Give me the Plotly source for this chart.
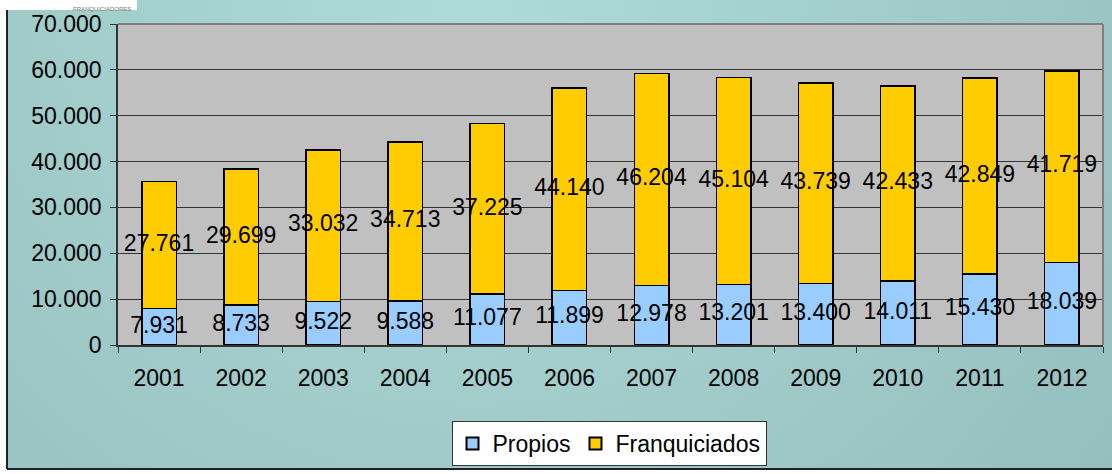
import base64
import plotly.graph_objects as go

years = ["2001", "2002", "2003", "2004", "2005", "2006", "2007", "2008", "2009", "2010", "2011", "2012"]
propios = [7931, 8733, 9522, 9588, 11077, 11899, 12978, 13201, 13400, 14011, 15430, 18039]
franquiciados = [27761, 29699, 33032, 34713, 37225, 44140, 46204, 45104, 43739, 42433, 42849, 41719]
y_ticks = [0, 10000, 20000, 30000, 40000, 50000, 60000, 70000]
series_names = ["Propios", "Franquiciados"]


def fmt(v):
    return f"{v:,}".replace(",", ".")


W, H = 1112, 474
L, R, T, B = 118, 1103, 24, 345


def px_x(p):
    return (p - L) / (R - L)


def px_y(p):
    return (B - p) / (B - T)


FONT = "Arial, 'Liberation Sans', sans-serif"
FS = 23

fig = go.Figure()
fig.add_trace(go.Bar(
    x=years, y=propios, name=series_names[0],
    marker=dict(color="#99CCFF", line=dict(color="#000000", width=1.5)),
    hoverinfo="x+y",
))
fig.add_trace(go.Bar(
    x=years, y=franquiciados, name=series_names[1],
    marker=dict(color="#FFCC00", line=dict(color="#000000", width=1.5)),
    hoverinfo="x+y",
))
# data labels centred in each segment
fig.add_trace(go.Scatter(
    x=years, y=[p / 2 for p in propios], mode="text",
    text=[fmt(v) for v in propios], textfont=dict(family=FONT, size=FS, color="#000"),
    showlegend=False, hoverinfo="skip",
))
fig.add_trace(go.Scatter(
    x=years, y=[p + f / 2 for p, f in zip(propios, franquiciados)], mode="text",
    text=[fmt(v) for v in franquiciados], textfont=dict(family=FONT, size=FS, color="#000"),
    showlegend=False, hoverinfo="skip",
))

# gradient background as SVG image
svg = f'''<svg xmlns="http://www.w3.org/2000/svg" width="{W}" height="{H}">
<defs><radialGradient id="g" cx="0.42" cy="0.0" r="0.75" gradientTransform="translate(0.42,0) scale(1,2.3) translate(-0.42,0)">
<stop offset="0" stop-color="#AEDBD8"/><stop offset="0.55" stop-color="#A0CBC9"/><stop offset="1" stop-color="#93BEBD"/>
</radialGradient></defs>
<rect width="{W}" height="{H}" fill="url(#g)"/></svg>'''
src = "data:image/svg+xml;base64," + base64.b64encode(svg.encode()).decode()

x0p, x1p = px_x(7), px_x(W)
y0p, y1p = px_y(0), px_y(469)
fig.add_layout_image(dict(
    source=src, xref="paper", yref="paper", x=x0p, y=y0p,
    sizex=x1p - x0p, sizey=y0p - y1p, xanchor="left", yanchor="top",
    sizing="stretch", layer="below",
))

shapes = [
    # plot area fill
    dict(type="rect", xref="paper", yref="paper", x0=0, x1=1, y0=0, y1=1,
         fillcolor="#C0C0C0", line=dict(width=0), layer="below"),
    # top and right plot border (gray)
    dict(type="line", xref="paper", yref="paper", x0=0, x1=1, y0=1, y1=1,
         line=dict(color="#808080", width=2), layer="above"),
    dict(type="line", xref="paper", yref="paper", x0=1, x1=1, y0=0, y1=1,
         line=dict(color="#808080", width=2), layer="above"),
    # chart frame left and bottom
    dict(type="line", xref="paper", yref="paper", x0=px_x(7), x1=px_x(7), y0=px_y(-2), y1=px_y(469),
         line=dict(color="#222", width=2), layer="above"),
    dict(type="line", xref="paper", yref="paper", x0=px_x(7), x1=px_x(W + 2), y0=px_y(469), y1=px_y(469),
         line=dict(color="#222", width=2), layer="above"),
    # logo white box
    dict(type="rect", xref="paper", yref="paper", x0=px_x(5), x1=px_x(137), y0=px_y(-2), y1=px_y(10),
         fillcolor="#FFFFFF", line=dict(width=0), layer="above"),
]

fig.update_layout(
    width=W, height=H,
    margin=dict(l=L, r=W - R, t=T, b=H - B, autoexpand=False),
    paper_bgcolor="#FFFFFF", plot_bgcolor="rgba(0,0,0,0)",
    barmode="stack", bargap=0.58,
    separators=",.",
    font=dict(family=FONT, size=FS, color="#000"),
    shapes=shapes,
    annotations=[dict(text="FRANQUICIADORES", xref="paper", yref="paper",
                      x=px_x(71), y=px_y(4), showarrow=False,
                      font=dict(family=FONT, size=6, color="#777"))],
    xaxis=dict(
        type="category", range=[-0.5, len(years) - 0.5],
        showgrid=False, showline=True, linecolor="#333", linewidth=1.5,
        ticks="outside", tickson="boundaries", ticklen=6, tickcolor="#333",
        ticklabelstandoff=12,
        tickfont=dict(family=FONT, size=FS, color="#000"), fixedrange=True,
        automargin=False,
    ),
    yaxis=dict(
        range=[0, 70000], tickvals=y_ticks, ticktext=[fmt(v) for v in y_ticks],
        showgrid=True, gridcolor="#333", gridwidth=1,
        showline=True, linecolor="#333", linewidth=1.5,
        ticks="outside", ticklen=6, tickcolor="#333", zeroline=False,
        ticklabelstandoff=4,
        tickfont=dict(family=FONT, size=FS, color="#000"), fixedrange=True,
        automargin=False,
    ),
    showlegend=True,
    legend=dict(
        orientation="h", x=px_x(609), xanchor="center", y=px_y(421), yanchor="top",
        bgcolor="#FFFFFF", bordercolor="#333", borderwidth=1,
        font=dict(family=FONT, size=FS, color="#000"), itemsizing="constant",
        traceorder="normal", itemwidth=30, tracegroupgap=0,
    ),
)

fig.write_html("out.html", config={"displayModeBar": False},
               post_script="document.body.style.margin='0';")
